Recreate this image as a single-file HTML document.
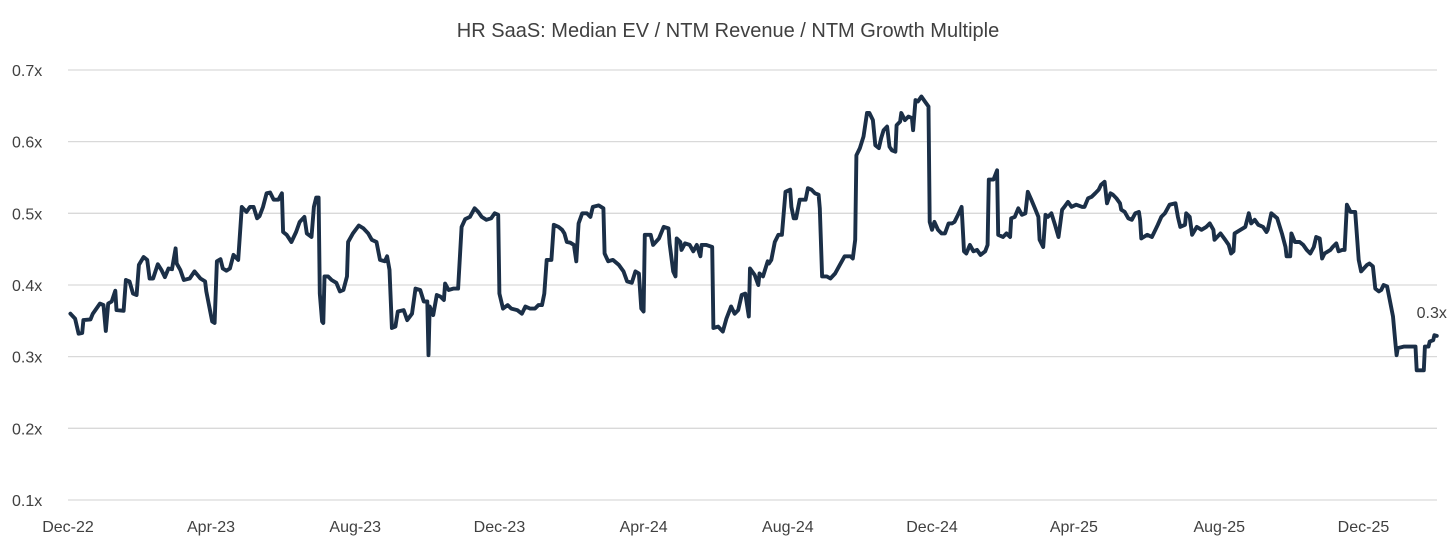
<!DOCTYPE html>
<html><head><meta charset="utf-8">
<style>
html,body{margin:0;padding:0;background:#fff;}
body{width:1456px;height:553px;overflow:hidden;font-family:"Liberation Sans",Arial,sans-serif;}
svg text{font-family:"Liberation Sans",Arial,sans-serif;}
</style></head>
<body>
<svg id="chart" width="1456" height="553" viewBox="0 0 1456 553" xmlns="http://www.w3.org/2000/svg">
<text x="728" y="37" text-anchor="middle" font-size="20" fill="#404040">HR SaaS: Median EV / NTM Revenue / NTM Growth Multiple</text>
<g id="grid"></g>
<g id="yaxis"></g>
<g id="xaxis"></g>
<g id="series"></g>
</svg>
<script>
// day offsets since 2022-12-01
const days = [
2,6,9,12,13,19,21,24,27,30, 32,34,37,40,41,47,49,52,55,58, 60,64,67,69,72,76,79,82,85,88, 91,92,95,98,103,107,112,116,117,122,
124,126,129,131,134,137,140,144,147,151, 154,157,160,162,165,168,171,174,178,181, 182,185,189,193,196,200,202,206,208,210,
212,213,215,216,217,220,223,227,230,233, 236,237,241,246,250,254,257,261,264,268, 270,272,274,277,279,284,287,291,294,298,
301,304,305,306,309,312,315,318,319,322, 326,330,333,336,340,344,347,350,354,358, 361,364,365,368,372,375,380,384,387,391,
395,398,401,403,405,409,411,415,418,420, 422,425,428,430,432,435,439,442,444,449, 453,454,457,461,466,470,473,477,480,483,
485,487,488,493,495,500,504,508,509,512, 514,515,518,519,522,526,529,532,535,536, 540,545,546,550,554,557,561,564,567,570,
573,576,577,581,584,585,588,592,593,
595,598,601,604,607,611,612,614,616,619, 624,626,629,632,635,636,638,642,645,649, 653,657,662,664,666,667,670,673,676,678,
681,683,686,688,690,693,695,697,700,701, 704,705,708,711,714,715,717,719,722,725, 728,729,731,733,736,739,742,745,748,750,
753,756,758,760,763,766,769,772,776,778, 779,783,786,787,791,794,797,798,801,804, 807,810,812,815,818,821,822,825,827,829,
832,835,838,841,843,846,849,853,858,860, 863,866,869,872,874,877,879,882,884,887, 890,
891,894,897,900,903,906,907,908,913,917, 920,922,925,928,932,937,939,941,945,946, 949,951,955,959,963,966,969,970,975,979,
982,984,986,987,992,996,999,1001,1004,1007, 1011,1014,1015,1018,1023,1027,1030,1031,1034,1035, 1038,1042,1045,1048,1051,1054,1056,1059,1061,1063,
1068,1070,1073,1075,1078,1080,1082,1085,1089,1092, 1094,1099,1101,1104,1106,1109,1111,1113,1116,1118, 1121,1123,1124,1125,1130,1140,1141,1147,1148,1151,
1152,1155,1156,1158
];
const multiples = [
0.360,0.353,0.332,0.333,0.351,0.352,0.360,0.367,0.374,0.372, 0.336,0.374,0.377,0.392,0.365,0.364,0.407,0.405,0.388,0.386, 0.428,0.439,0.435,0.409,0.409,0.429,0.421,0.411,0.423,0.422, 0.451,0.430,0.421,0.407,0.409,0.419,0.409,0.405,0.391,0.349,
0.347,0.433,0.436,0.423,0.420,0.423,0.442,0.435,0.509,0.502, 0.509,0.509,0.493,0.496,0.509,0.528,0.529,0.519,0.519,0.528, 0.474,0.470,0.460,0.474,0.488,0.495,0.472,0.467,0.509,0.522,
0.522,0.388,0.349,0.347,0.412,0.412,0.407,0.403,0.391,0.393, 0.412,0.460,0.472,0.483,0.479,0.472,0.463,0.460,0.435,0.433, 0.440,0.421,0.340,0.342,0.363,0.365,0.351,0.360,0.395,0.393,
0.377,0.377,0.302,0.370,0.358,0.386,0.384,0.379,0.402,0.393, 0.395,0.395,0.481,0.492,0.495,0.507,0.502,0.495,0.491,0.493, 0.500,0.498,0.388,0.367,0.372,0.367,0.365,0.360,0.370,0.367,
0.367,0.372,0.372,0.388,0.435,0.435,0.484,0.481,0.477,0.472, 0.460,0.459,0.456,0.433,0.486,0.500,0.500,0.495,0.509,0.511, 0.507,0.444,0.433,0.435,0.428,0.419,0.405,0.403,0.419,0.416,
0.367,0.363,0.470,0.470,0.456,0.465,0.481,0.479,0.458,0.419, 0.412,0.465,0.460,0.449,0.458,0.456,0.447,0.456,0.440,0.456, 0.456,0.453,0.340,0.342,0.335,0.353,0.370,0.360,0.365,0.386,
0.388,0.356,0.423,0.414,0.400,0.416,0.412,0.433,0.430,
0.435,0.460,0.470,0.470,0.530,0.533,0.509,0.493,0.493,0.519, 0.519,0.535,0.533,0.528,0.526,0.507,0.412,0.412,0.409,0.416, 0.428,0.440,0.440,0.437,0.463,0.581,0.591,0.607,0.640,0.640,
0.630,0.595,0.591,0.605,0.616,0.621,0.593,0.588,0.586,0.623, 0.628,0.640,0.630,0.635,0.633,0.616,0.658,0.656,0.663,0.656, 0.649,0.488,0.477,0.488,0.477,0.472,0.472,0.486,0.486,0.488,
0.498,0.509,0.447,0.444,0.456,0.447,0.449,0.442,0.447,0.456, 0.547,0.547,0.560,0.470,0.467,0.472,0.467,0.493,0.495,0.507, 0.498,0.500,0.530,0.519,0.507,0.495,0.463,0.453,0.498,0.495,
0.500,0.484,0.467,0.505,0.509,0.516,0.509,0.512,0.509,0.509, 0.521,0.523,0.528,0.533,0.540,0.544,0.514,0.528,0.526,0.521, 0.514,
0.505,0.502,0.493,0.491,0.500,0.502,0.491,0.465,0.470,0.467, 0.477,0.484,0.495,0.500,0.512,0.514,0.495,0.481,0.484,0.500, 0.495,0.470,0.481,0.477,0.481,0.486,0.477,0.463,0.472,0.463,
0.456,0.444,0.447,0.472,0.477,0.481,0.500,0.486,0.491,0.484, 0.481,0.474,0.477,0.500,0.493,0.472,0.453,0.440,0.440,0.472, 0.460,0.460,0.456,0.449,0.444,0.453,0.467,0.465,0.437,0.444,
0.449,0.453,0.458,0.447,0.449,0.449,0.512,0.502,0.502,0.435, 0.419,0.428,0.430,0.426,0.395,0.391,0.393,0.400,0.398,0.381, 0.356,0.319,0.302,0.312,0.314,0.314,0.281,0.281,0.314,0.314,
0.321,0.323,0.330,0.329
];
const yTicks = [0.1,0.2,0.3,0.4,0.5,0.6,0.7];
const yTickLabels = ["0.1x","0.2x","0.3x","0.4x","0.5x","0.6x","0.7x"];
const xTickDays = [0,121,243,365,487,609,731,851,974,1096];
const xTickLabels = ["Dec-22","Apr-23","Aug-23","Dec-23","Apr-24","Aug-24","Dec-24","Apr-25","Aug-25","Dec-25"];
const endLabel = "0.3x";

const NS = "http://www.w3.org/2000/svg";
const X0 = 68, PXD = 1.182, Y0 = 500, PXV = 716.7;
function xs(d){ return X0 + d * PXD; }
function ys(v){ return Y0 - (v - 0.1) * PXV; }
function mk(tag, attrs, parent){ const e = document.createElementNS(NS, tag); for (const k in attrs) e.setAttribute(k, attrs[k]); parent.appendChild(e); return e; }

const grid = document.getElementById('grid');
const yaxis = document.getElementById('yaxis');
const xaxis = document.getElementById('xaxis');
const series = document.getElementById('series');

yTicks.forEach((t, i) => {
  const ln = mk('line', {x1: 68, x2: 1437, y1: ys(t), y2: ys(t), stroke: '#d9d9d9', 'stroke-width': 1.3}, grid);
  
  
  const tx = mk('text', {x: 12, y: ys(t) + 6, 'font-size': 16, fill: '#404040'}, yaxis);
  tx.textContent = yTickLabels[i];
  
  
});
xTickDays.forEach((d, i) => {
  const tx = mk('text', {x: xs(d), y: 532, 'font-size': 16, fill: '#404040', 'text-anchor': 'middle'}, xaxis);
  tx.textContent = xTickLabels[i];
  
  
});
const n = Math.min(days.length, multiples.length);
let dstr = '';
for (let i = 0; i < n; i++) dstr += (i ? 'L' : 'M') + xs(days[i]).toFixed(1) + ' ' + ys(multiples[i]).toFixed(1);
const path = mk('path', {d: dstr, fill: 'none', stroke: '#1b2f47', 'stroke-width': 3.9, 'stroke-linejoin': 'round', 'stroke-linecap': 'round'}, series);


const lbl = mk('text', {x: xs(days[n-1]) - 5, y: ys(multiples[n-1]) - 18, 'font-size': 16, fill: '#404040', 'text-anchor': 'middle'}, series);
lbl.textContent = endLabel;


</script>
</body></html>
